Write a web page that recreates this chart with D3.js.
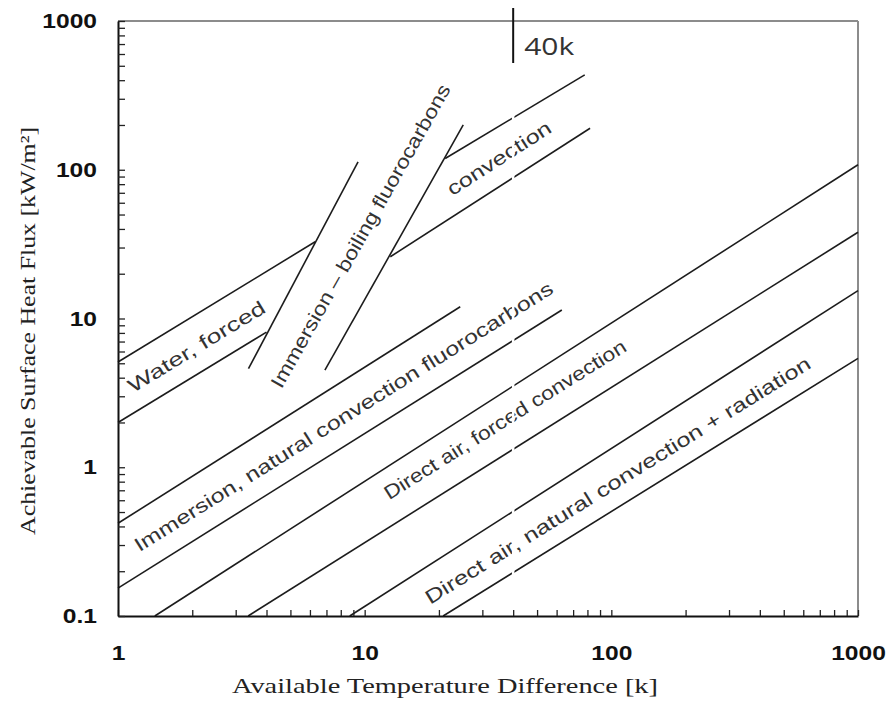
<!DOCTYPE html>
<html>
<head>
<meta charset="utf-8">
<script src="https://cdn.jsdelivr.net/npm/d3@7"></script>
<style>
  html, body { margin: 0; padding: 0; background: #fff; }
  svg { display: block; }
</style>
</head>
<body>
<svg id="chart" width="889" height="702"></svg>
<script>
// Regime boundaries: each segment is [[ΔT start (K), q start (kW/m²)], [ΔT end, q end]]
const waterForced           = [[[1, 5.1], [6.3, 32.8]], [[1, 2.0], [4.0, 8.1]]];
const waterForcedConvection = [[[21.2, 119], [78, 434]], [[12.7, 26], [82, 190]]];
const immersionBoiling      = [[[3.38, 4.6], [9.4, 113]], [[6.9, 4.5], [25.1, 200]]];
const immersionNatural      = [[[1, 0.42], [24.4, 12]], [[1, 0.154], [63, 11.4]]];
const airForced             = [[[1.41, 0.1], [1000, 108]], [[3.37, 0.1], [1000, 38]]];
const airNatural            = [[[8.7, 0.1], [1000, 15.4]], [[20.8, 0.1], [1000, 5.4]]];

const regimeLabels = [
  "Water, forced",
  "convection",
  "Immersion – boiling fluorocarbons",
  "Immersion, natural convection fluorocarbons",
  "Direct air, forced convection",
  "Direct air, natural convection + radiation"
];

const xTickLabels = [1, 10, 100, 1000];
const yTickLabels = [0.1, 1, 10, 100, 1000];

const markerDeltaT = 40;
const markerLabel = "40k";

const xTitle = "Available Temperature Difference [k]";
const yTitle = "Achievable Surface Heat Flux [kW/m²]";

// ---- layout ----
const plot = { left: 118, right: 858, top: 21, bottom: 616 };

const svg = d3.select("#chart");

const x = d3.scaleLog().domain([1, 1000]).range([plot.left, plot.right]);
const y = d3.scaleLog().domain([0.1, 1000]).range([plot.bottom, plot.top]);

// label placement (data-space anchor, text length in px, segment that sets the angle)
const labelLayout = [
  { t: 2.08, q: 6.5,  len: 157, seg: waterForced[0] },
  { t: 35,   q: 120,  len: 120, seg: waterForcedConvection[1] },
  { t: 9.6,  q: 36,   len: 345, seg: immersionBoiling[1] },
  { t: 8.2,  q: 2.2,  len: 490, seg: immersionNatural[1] },
  { t: 37,   q: 2.1,  len: 282, seg: airForced[1] },
  { t: 106,  q: 0.82, len: 450, seg: airNatural[1] }
];

const sameValue = (a, b) => Math.abs(a - b) / b < 1e-6;

// ---- axes ----
const xAxis = d3.axisBottom(x)
  .tickValues(x.ticks())
  .tickSizeInner(-6)
  .tickSizeOuter(0)
  .tickPadding(29)
  .tickFormat(d => {
    const v = xTickLabels.find(t => sameValue(d, t));
    return v === undefined ? "" : String(v);
  });

const yAxis = d3.axisLeft(y)
  .tickValues(y.ticks())
  .tickSizeInner(-7)
  .tickSizeOuter(0)
  .tickPadding(21)
  .tickFormat(d => {
    const v = yTickLabels.find(t => sameValue(d, t));
    return v === undefined ? "" : String(v);
  });

// frame: top and right edges in grey
svg.append("line")
  .attr("x1", plot.left).attr("x2", plot.right)
  .attr("y1", plot.top).attr("y2", plot.top)
  .attr("stroke", "#8c8c8c").attr("stroke-width", 2);
svg.append("line")
  .attr("x1", plot.right).attr("x2", plot.right)
  .attr("y1", plot.top).attr("y2", plot.bottom)
  .attr("stroke", "#8c8c8c").attr("stroke-width", 2);

// ---- regime boundary lines ----
const allSegments = [].concat(
  waterForced, waterForcedConvection, immersionBoiling,
  immersionNatural, airForced, airNatural
);

const line = d3.line().x(d => x(d[0])).y(d => y(d[1]));

svg.append("g")
  .selectAll("path")
  .data(allSegments)
  .join("path")
  .attr("d", line)
  .attr("fill", "none")
  .attr("stroke", "#1c1c1c")
  .attr("stroke-width", 1.6);

// ---- regime labels ----
const labelGroup = svg.append("g")
  .attr("font-family", "'Liberation Sans', Arial, sans-serif")
  .attr("font-size", 19.5)
  .attr("fill", "#333");

labelLayout.forEach((L, i) => {
  const s = L.seg;
  const ang = Math.atan2(y(s[1][1]) - y(s[0][1]), x(s[1][0]) - x(s[0][0])) * 180 / Math.PI;
  labelGroup.append("text")
    .attr("transform", `translate(${x(L.t)},${y(L.q)}) rotate(${ang})`)
    .attr("text-anchor", "middle")
    .attr("dominant-baseline", "central")
    .attr("textLength", L.len)
    .attr("lengthAdjust", "spacingAndGlyphs")
    .text(regimeLabels[i]);
});

// break in the lines along the 40 K marker
svg.append("line")
  .attr("x1", x(markerDeltaT)).attr("x2", x(markerDeltaT))
  .attr("y1", 66).attr("y2", 604)
  .attr("stroke", "#fff").attr("stroke-width", 2.5);

// ---- axes drawn on top ----
const gx = svg.append("g")
  .attr("transform", `translate(0,${plot.bottom})`)
  .call(xAxis);
const gy = svg.append("g")
  .attr("transform", `translate(${plot.left},0)`)
  .call(yAxis);

[gx, gy].forEach(g => {
  g.select(".domain").attr("stroke", "#111").attr("stroke-width", 2);
  g.selectAll(".tick line").attr("stroke", "#222").attr("stroke-width", 1.3);
  g.selectAll(".tick text")
    .attr("fill", "#111")
    .attr("font-family", "'Liberation Sans', Arial, sans-serif")
    .attr("font-weight", "bold")
    .attr("font-size", 20.5);
});

// widen tick labels slightly
[gx, gy].forEach(g => {
  g.selectAll(".tick text").each(function () {
    const len = this.getComputedTextLength();
    if (len > 0) {
      d3.select(this)
        .attr("textLength", len * 1.2)
        .attr("lengthAdjust", "spacingAndGlyphs");
    }
  });
});

// ---- 40 K marker ----
svg.append("line")
  .attr("x1", x(markerDeltaT)).attr("x2", x(markerDeltaT))
  .attr("y1", 8).attr("y2", 63)
  .attr("stroke", "#111").attr("stroke-width", 2);
svg.append("text")
  .attr("x", x(markerDeltaT) + 11)
  .attr("y", 55)
  .attr("font-family", "'Open Sans', 'Liberation Sans', sans-serif")
  .attr("font-size", 23)
  .attr("fill", "#333")
  .attr("textLength", 50)
  .attr("lengthAdjust", "spacingAndGlyphs")
  .text(markerLabel);

// ---- axis titles ----
svg.append("text")
  .attr("x", (plot.left + plot.right) / 2 - 43)
  .attr("y", 693)
  .attr("text-anchor", "middle")
  .attr("font-family", "'Liberation Serif', 'Times New Roman', serif")
  .attr("font-size", 21)
  .attr("fill", "#222")
  .attr("textLength", 426)
  .attr("lengthAdjust", "spacingAndGlyphs")
  .text(xTitle);

svg.append("text")
  .attr("transform", "translate(27,331) rotate(-90)")
  .attr("text-anchor", "middle")
  .attr("dominant-baseline", "central")
  .attr("font-family", "'Liberation Serif', 'Times New Roman', serif")
  .attr("font-size", 22)
  .attr("fill", "#222")
  .attr("textLength", 408)
  .attr("lengthAdjust", "spacingAndGlyphs")
  .text(yTitle);
</script>
</body>
</html>
